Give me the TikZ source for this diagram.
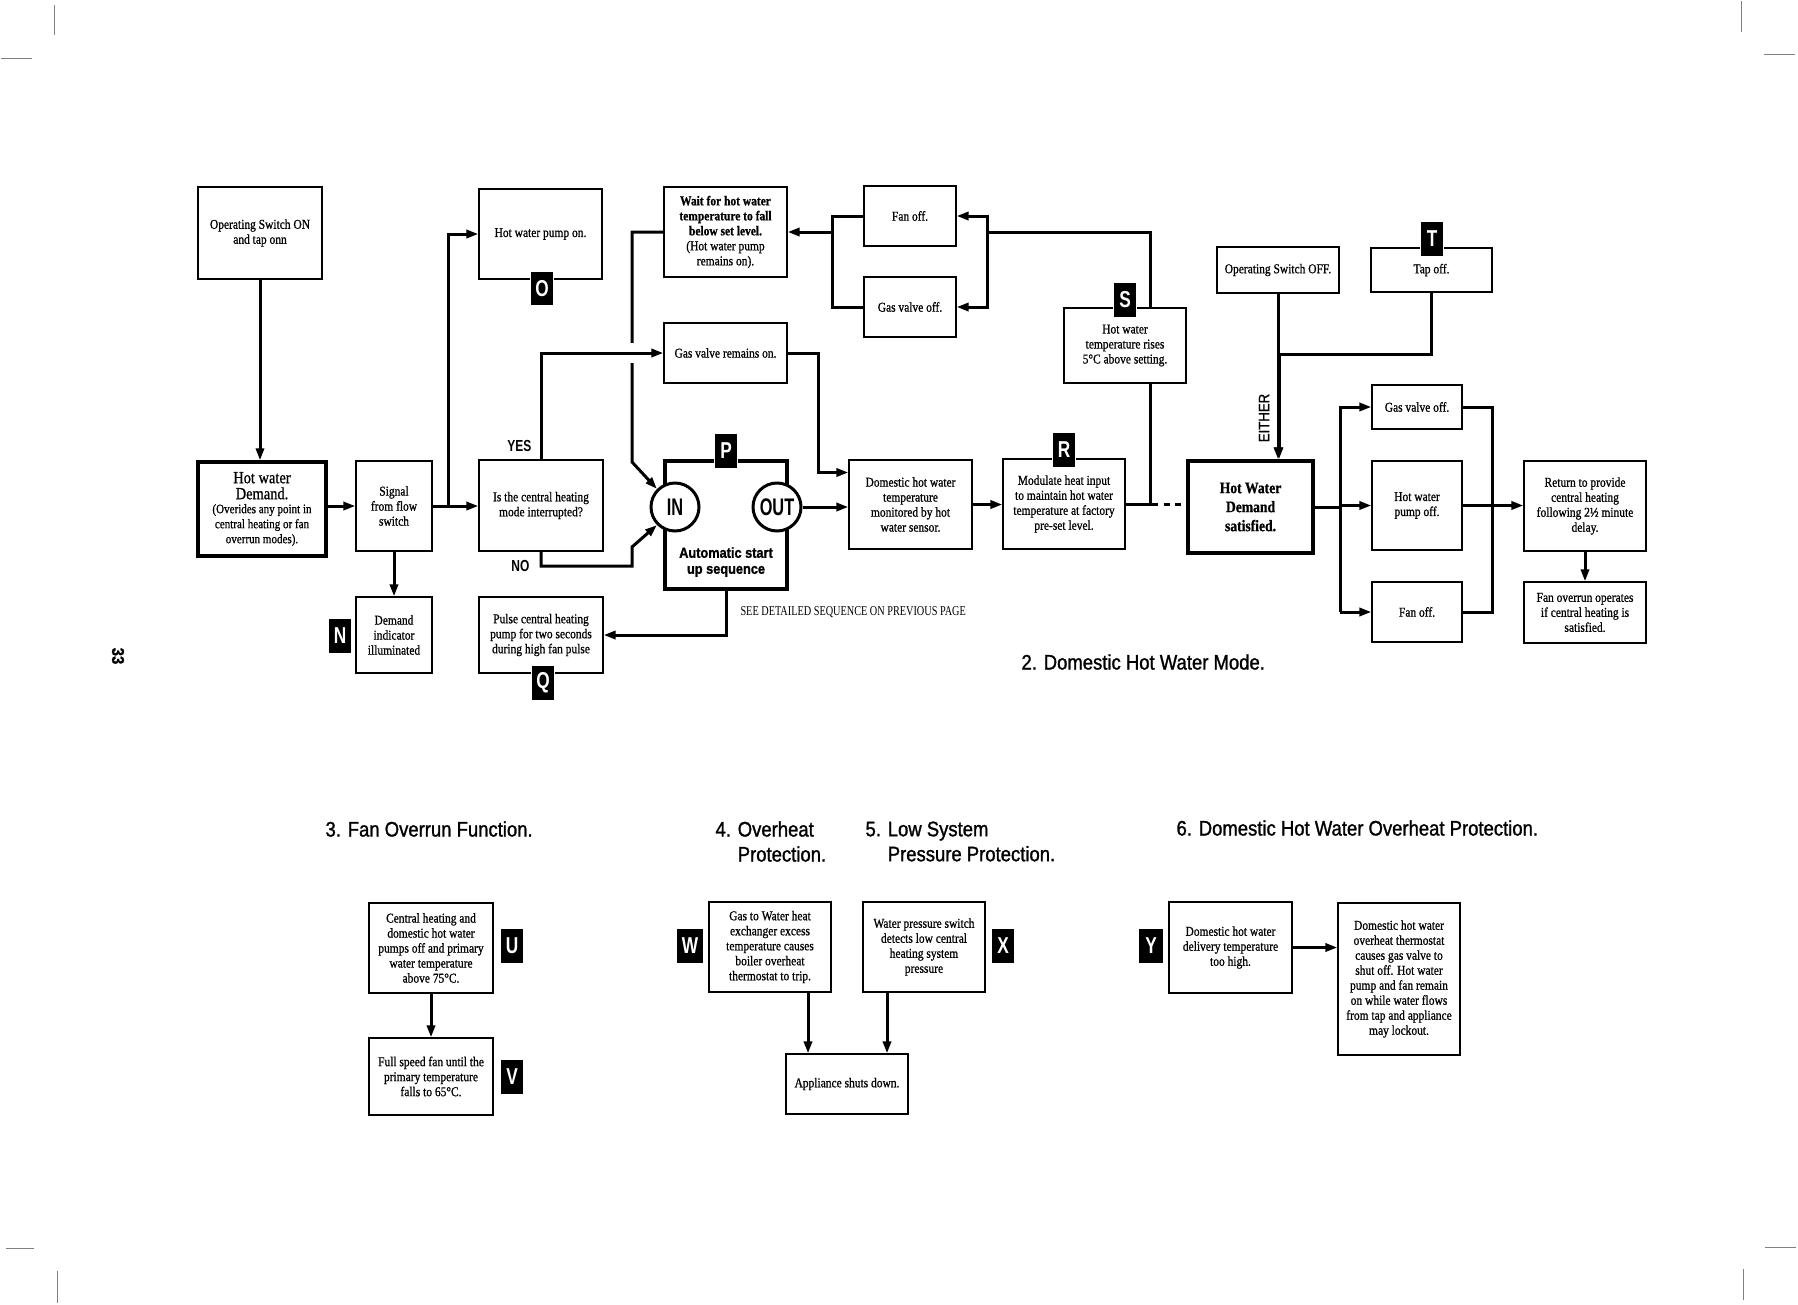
\documentclass[tikz,border=0pt]{standalone}
\usepackage{fontspec}
\setmainfont{Liberation Serif}[FakeStretch=0.85,FakeBold=0.8]
\newfontfamily\titlefont{Liberation Sans}[FakeStretch=0.88,FakeBold=1.2]
\newfontfamily\labfont{Liberation Sans}[FakeStretch=0.75]
\newfontfamily\iofont{Liberation Sans}[FakeStretch=0.68]
\newfontfamily\seefont{Liberation Serif}[FakeStretch=0.76]
\usetikzlibrary{arrows.meta}
\begin{document}
\begin{tikzpicture}[x=1pt,y=-1pt,
 >={Triangle[length=12pt,width=8pt]},
 box/.style={draw,line width=1.1pt,align=center,inner sep=1pt,font=\fontsize{13.5}{15}\selectfont},
 thickbox/.style={box,line width=3.3pt},
 sz/.style 2 args={minimum width=#1pt,minimum height=#2pt},
 conn/.style={line width=3pt},
 arr/.style={conn,->},
 lab/.style={fill=black,text=white,draw=white,line width=1.5pt,inner sep=0pt,minimum width=23pt,minimum height=35pt,font=\labfont\bfseries\fontsize{23}{23}\selectfont},
 io/.style={circle,draw,fill=white,line width=3pt,minimum size=48pt,inner sep=0pt,font=\iofont\bfseries\fontsize{24}{24}\selectfont},
 title/.style={anchor=west,align=left,font=\titlefont\fontsize{21}{25}\selectfont},
 yn/.style={font=\labfont\bfseries\fontsize{16}{16}\selectfont},
 cropline/.style={gray,line width=0.9pt}]
\fill[white] (0,0) rectangle (1798,1304);
\useasboundingbox (0,0) rectangle (1798,1304);

% crop marks
\draw[cropline] (54,5) -- (54,35);
\draw[cropline] (1,58) -- (32,58);
\draw[cropline] (1741,1) -- (1741,32);
\draw[cropline] (1764,54) -- (1795,54);
\draw[cropline] (6,1248) -- (34,1248);
\draw[cropline] (57,1271) -- (57,1303);
\draw[cropline] (1765,1247) -- (1796,1247);
\draw[cropline] (1743,1269) -- (1743,1300);
\node[rotate=-90,font=\titlefont\bfseries\fontsize{17}{17}\selectfont] (pageno) at (118,656) {33};

% ---------- section 2 boxes ----------
\node[box,sz={124}{92}] (opon) at (260,233) {Operating Switch ON\\and tap onn};
\node[thickbox,sz={128}{94}] (hwd) at (262,509) {{\fontsize{17}{19}\selectfont Hot water}\\[1pt]{\fontsize{17}{19}\selectfont Demand.}\\[-1pt]{\fontsize{13}{15}\selectfont (Overides any point in}\\{\fontsize{13}{15}\selectfont central heating or fan}\\{\fontsize{13}{15}\selectfont overrun modes).}};
\node[box,sz={76}{90}] (sig) at (394,506) {Signal\\from flow\\switch};
\node[box,sz={76}{76}] (dind) at (394,635) {Demand\\indicator\\illuminated};
\node[box,sz={123}{90}] (pumpon) at (540.5,234) {Hot water pump on.};
\node[box,sz={124}{91}] (q) at (541,505.5) {Is the central heating\\mode interrupted?};
\node[box,sz={124}{76}] (pulse) at (541,635) {Pulse central heating\\pump for two seconds\\during high fan pulse};
\node[box,sz={123}{90}] (wait) at (725.5,232) {\textbf{Wait for hot water}\\\textbf{temperature to fall}\\\textbf{below set level.}\\(Hot water pump\\remains on).};
\node[box,sz={123}{60}] (gvon) at (725.5,353) {Gas valve remains on.};
\node[box,sz={92}{60}] (fanoff) at (910,216) {Fan off.};
\node[box,sz={92}{60}] (gvoff) at (910,307) {Gas valve off.};
\node[thickbox,sz={122}{128}] (start) at (726,525) {};
\node[font=\titlefont\bfseries\fontsize{14.5}{16}\selectfont,align=center] (starttxt) at (726,562) {Automatic start\\up sequence};
\node[io] (IN) at (675,507) {IN};
\node[io] (OUT) at (777,507) {OUT};
\node[box,sz={123}{89}] (dom) at (910.5,504.5) {Domestic hot water\\temperature\\monitored by hot\\water sensor.};
\node[box,sz={122}{90}] (mod) at (1064,504) {Modulate heat input\\to maintain hot water\\temperature at factory\\pre-set level.};
\node[box,sz={122}{75}] (srise) at (1125,345.5) {Hot water\\temperature rises\\5°C above setting.};
\node[box,sz={122}{46}] (osoff) at (1278,270) {Operating Switch OFF.};
\node[box,sz={121}{44}] (tapoff) at (1431.5,270) {Tap off.};
\node[thickbox,sz={125}{92},font=\bfseries\fontsize{16}{19}\selectfont] (hws) at (1250.5,507) {Hot Water\\Demand\\satisfied.};
\node[box,sz={90}{44}] (gvoff2) at (1417,407) {Gas valve off.};
\node[box,sz={90}{89}] (pumpoff) at (1417,505.5) {Hot water\\pump off.};
\node[box,sz={90}{60}] (fanoff2) at (1417,612) {Fan off.};
\node[box,sz={122}{90}] (ret) at (1585,506) {Return to provide\\central heating\\following 2½ minute\\delay.};
\node[box,sz={122}{61}] (fanrun) at (1585,612.5) {Fan overrun operates\\if central heating is\\satisfied.};

% ---------- connectors section 2 ----------
\draw[arr] (opon.south) -- (opon.south |- hwd.north);
\draw[arr] (hwd.east |- sig.west) -- (sig.west);
\draw[arr] (sig.east) -- (sig.east -| q.west);
\coordinate (j1) at (448,506);
\draw[arr] (j1) |- (pumpon.west);
\draw[arr] (sig.south) -- (dind.north);
\coordinate (inlow) at (632,547);
\draw[arr] (q.south) |- (inlow |- 0,566) -- (inlow) -- (IN.south west);
\coordinate (inhigh) at (632,462);
\draw[arr] (wait.west) -- (inhigh |- wait.west) -- (inhigh) -- (IN.north west);
\draw[white,line width=6pt] (632,343) -- (632,363);
\draw[arr] (q.north) |- (gvon.west);
\node[yn,anchor=east] (yes) at (535,446) {YES};
\node[yn,anchor=east] (no) at (533,566) {NO};
\coordinate (wj) at (832,232);
\draw[conn] (fanoff.west) -- (wj |- fanoff.west) -- (wj |- gvoff.west) -- (gvoff.west);
\draw[arr] (wj) -- (wj -| wait.east);
\coordinate (fj) at (987,232);
\coordinate (sn) at ([xshift=25pt]srise.north);
\coordinate (sx) at ([xshift=25pt]srise.south);
\draw[conn] (sn) |- (fj);
\draw[conn] ([yshift=1.5pt]fj |- fanoff.east) -- ([yshift=-1.5pt]fj |- gvoff.east);
\draw[arr] (fj |- fanoff.east) -- (fanoff.east);
\draw[arr] (fj |- gvoff.east) -- (gvoff.east);
\coordinate (gj) at (818,353);
\draw[arr] (gvon.east) -- (gj) |- ([yshift=32pt]dom.west);
\draw[arr] (OUT.east) -- (OUT.east -| dom.west);
\draw[arr] (dom.east) -- (dom.east -| mod.west);
\draw[arr] (start.south) |- (pulse.east);
\draw[conn] (sx) |- (mod.east);
\draw[conn] (mod.east) -- ++(32,0);
\draw[conn,dash pattern=on 6pt off 5pt] ([xshift=38pt]mod.east) -- (hws.west |- mod.east);
\draw[arr] (osoff.south) -- (osoff.south |- hws.north);
\coordinate (tk) at (1279,354);
\draw[arr] (tapoff.south) |- (tk) -- (tk |- hws.north);
\node[rotate=90,font=\titlefont\fontsize{15}{15}\selectfont] (either) at (1264,418) {EITHER};
\coordinate (b1) at (1340,505);
\coordinate (b2) at (1492,505);
\draw[conn] (hws.east) -- (hws.east -| b1);
\draw[arr] (b1 |- fanoff2.west) -- (b1 |- gvoff2.west) -- (gvoff2.west);
\draw[arr] (b1 |- fanoff2.west) -- (fanoff2.west);
\draw[arr] (b1 |- pumpoff.west) -- (pumpoff.west);
\draw[conn] (gvoff2.east) -- (gvoff2.east -| b2) -- (fanoff2.east -| b2) -- (fanoff2.east);
\draw[arr] (pumpoff.east) -- (pumpoff.east -| ret.west);
\draw[arr] (ret.south) -- (ret.south |- fanrun.north);

% labels
\node[lab] (lO) at (542,288.5) {O};
\node[lab] (lN) at (340,636) {N};
\node[lab] (lQ) at (543,683) {Q};
\node[lab] (lP) at (726,451) {P};
\node[lab] (lR) at (1064,450) {R};
\node[lab] (lS) at (1125,300) {S};
\node[lab] (lT) at (1432,239) {T};

\node[font=\seefont\fontsize{13.5}{15}\selectfont,anchor=west] (see) at (737,612) {SEE DETAILED SEQUENCE ON PREVIOUS PAGE};
\node[title] (t2) at (1018,662) {2. Domestic Hot Water Mode.};

% ---------- sections 3-6 ----------
\node[title] (t3) at (322,829) {3. Fan Overrun Function.};
\node[title] (t4) at (712,841.5) {4. Overheat\\\phantom{4. }Protection.};
\node[title] (t5) at (862,841.5) {5. Low System\\\phantom{5. }Pressure Protection.};
\node[title] (t6) at (1173,828) {6. Domestic Hot Water Overheat Protection.};

\node[box,sz={124}{90}] (ubox) at (431,948) {Central heating and\\domestic hot water\\pumps off and primary\\water temperature\\above 75°C.};
\node[box,sz={124}{77}] (vbox) at (431,1076.5) {Full speed fan until the\\primary temperature\\falls to 65°C.};
\node[box,sz={122}{90}] (wbox) at (770,947) {Gas to Water heat\\exchanger excess\\temperature causes\\boiler overheat\\thermostat to trip.};
\node[box,sz={122}{90}] (xbox) at (924,947) {Water pressure switch\\detects low central\\heating system\\pressure};
\node[box,sz={122}{60}] (app) at (847,1084) {Appliance shuts down.};
\node[box,sz={123}{91}] (ybox) at (1230.5,947.5) {Domestic hot water\\delivery temperature\\too high.};
\node[box,sz={122}{152}] (y2) at (1399,979) {Domestic hot water\\overheat thermostat\\causes gas valve to\\shut off. Hot water\\pump and fan remain\\on while water flows\\from tap and appliance\\may lockout.};

\draw[arr] (ubox.south) -- (vbox.north);
\coordinate (wx) at ([xshift=38pt]wbox.south);
\coordinate (xx) at ([xshift=-37pt]xbox.south);
\draw[arr] (wx) -- (wx |- app.north);
\draw[arr] (xx) -- (xx |- app.north);
\draw[arr] (ybox.east) -- (ybox.east -| y2.west);

\node[lab] (lU) at (512,946) {U};
\node[lab] (lV) at (512,1077) {V};
\node[lab,minimum width=27pt] (lW) at (690,946) {W};
\node[lab] (lX) at (1003,946) {X};
\node[lab,minimum width=26pt] (lY) at (1151,946) {Y};
\end{tikzpicture}
\end{document}
